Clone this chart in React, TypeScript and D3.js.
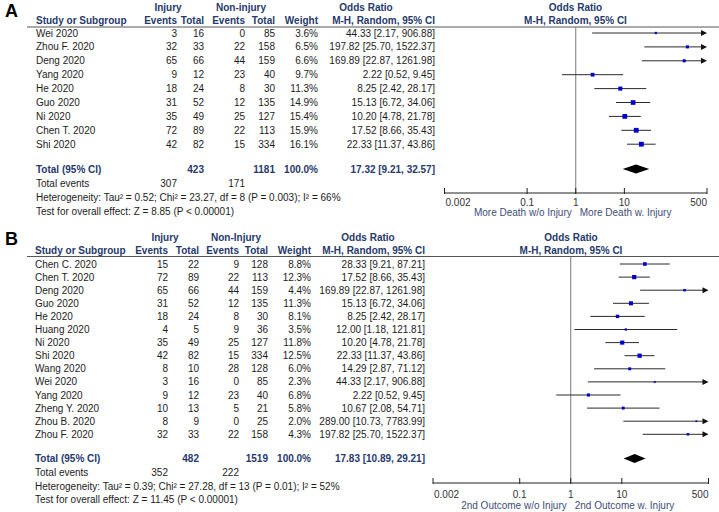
import React from "react";
import * as d3 from "d3";

// ---------- Data ----------
const studiesA = ["Wei 2020", "Zhou F. 2020", "Deng 2020", "Yang 2020", "He 2020", "Guo 2020", "Ni 2020", "Chen T. 2020", "Shi 2020"];
const injEventsA = [3, 32, 65, 9, 18, 31, 35, 72, 42];
const injTotalA = [16, 33, 66, 12, 24, 52, 49, 89, 82];
const nonEventsA = [0, 22, 44, 23, 8, 12, 25, 22, 15];
const nonTotalA = [85, 158, 159, 40, 30, 135, 127, 113, 334];
const weightA = [3.6, 6.5, 6.6, 9.7, 11.3, 14.9, 15.4, 15.9, 16.1];
const orA = [44.33, 197.82, 169.89, 2.22, 8.25, 15.13, 10.2, 17.52, 22.33];
const lowA = [2.17, 25.7, 22.87, 0.52, 2.42, 6.72, 4.78, 8.66, 11.37];
const highA = [906.88, 1522.37, 1261.98, 9.45, 28.17, 34.06, 21.78, 35.43, 43.86];
const totalA = { inj: 423, non: 1181, or: 17.32, low: 9.21, high: 32.57, evInj: 307, evNon: 171 };
const hetA = "Heterogeneity: Tau\u00b2 = 0.52; Chi\u00b2 = 23.27, df = 8 (P = 0.003); I\u00b2 = 66%";
const testA = "Test for overall effect: Z = 8.85 (P < 0.00001)";

const studiesB = ["Chen C. 2020", "Chen T. 2020", "Deng 2020", "Guo 2020", "He 2020", "Huang 2020", "Ni 2020", "Shi 2020", "Wang 2020", "Wei 2020", "Yang 2020", "Zheng Y. 2020", "Zhou B. 2020", "Zhou F. 2020"];
const injEventsB = [15, 72, 65, 31, 18, 4, 35, 42, 8, 3, 9, 10, 8, 32];
const injTotalB = [22, 89, 66, 52, 24, 5, 49, 82, 10, 16, 12, 13, 9, 33];
const nonEventsB = [9, 22, 44, 12, 8, 9, 25, 15, 28, 0, 23, 5, 0, 22];
const nonTotalB = [128, 113, 159, 135, 30, 36, 127, 334, 128, 85, 40, 21, 25, 158];
const weightB = [8.8, 12.3, 4.4, 11.3, 8.1, 3.5, 11.8, 12.5, 6.0, 2.3, 6.8, 5.8, 2.0, 4.3];
const orB = [28.33, 17.52, 169.89, 15.13, 8.25, 12.0, 10.2, 22.33, 14.29, 44.33, 2.22, 10.67, 289.0, 197.82];
const lowB = [9.21, 8.66, 22.87, 6.72, 2.42, 1.18, 4.78, 11.37, 2.87, 2.17, 0.52, 2.08, 10.73, 25.7];
const highB = [87.21, 35.43, 1261.98, 34.06, 28.17, 121.81, 21.78, 43.86, 71.12, 906.88, 9.45, 54.71, 7783.99, 1522.37];
const totalB = { inj: 482, non: 1519, or: 17.83, low: 10.89, high: 29.21, evInj: 352, evNon: 222 };
const hetB = "Heterogeneity: Tau\u00b2 = 0.39; Chi\u00b2 = 27.28, df = 13 (P = 0.01); I\u00b2 = 52%";
const testB = "Test for overall effect: Z = 11.45 (P < 0.00001)";

const axisTicks = [0.002, 0.1, 1, 10, 500];
const axisTickLabels = ["0.002", "0.1", "1", "10", "500"];

// ---------- Styles ----------
const FONT = "'Liberation Sans', Arial, Helvetica, sans-serif";
const NAVY = "#26396b";
const TEXT = "#1c1c1c";
const SIDE = "#3f4d78";

const fmt2 = (v: number) => v.toFixed(2);
const fmtOR = (o: number, l: number, h: number) => `${fmt2(o)} [${fmt2(l)}, ${fmt2(h)}]`;

type Layout = {
  letter: string; letterY: number;
  nameX: number; evI: number; totI: number; evN: number; totN: number; wt: number; orR: number;
  injC: number; nonC: number; orHC: number; plotC: number;
  groupY: number; colY: number; lineY: number;
  row0: number; step: number;
  totalY: number; evY: number; hetY: number; testY: number;
  axisY: number; tickLblY: number; sideY: number;
  xr: [number, number];
  nonLabel: string; sideL: string; sideR: string;
};

type PanelData = {
  studies: string[]; ie: number[]; it: number[]; ne: number[]; nt: number[]; w: number[];
  or: number[]; lo: number[]; hi: number[];
  total: { inj: number; non: number; or: number; low: number; high: number; evInj: number; evNon: number };
  het: string; test: string;
};

function Panel({ L, D }: { L: Layout; D: PanelData }) {
  const x = d3.scaleLog().domain([0.002, 500]).range(L.xr);
  const [xmin, xmax] = L.xr;
  const T = (props: any) => <text fontFamily={FONT} fontSize={10} fill={TEXT} {...props} />;
  const b = (c: number) => c + 3.5;
  const rows = D.studies.map((s, i) => {
    const cy = L.row0 + i * L.step;
    const x1 = Math.max(xmin, x(D.lo[i]));
    const x2 = Math.min(xmax, x(D.hi[i]));
    const over = D.hi[i] > 500;
    const sq = Math.sqrt(D.w[i]) * 1.2;
    return (
      <g key={s}>
        <T x={L.nameX} y={b(cy)}>{s}</T>
        <T x={L.evI} y={b(cy)} textAnchor="end">{D.ie[i]}</T>
        <T x={L.totI} y={b(cy)} textAnchor="end">{D.it[i]}</T>
        <T x={L.evN} y={b(cy)} textAnchor="end">{D.ne[i]}</T>
        <T x={L.totN} y={b(cy)} textAnchor="end">{D.nt[i]}</T>
        <T x={L.wt} y={b(cy)} textAnchor="end">{D.w[i].toFixed(1)}%</T>
        <T x={L.orR} y={b(cy)} textAnchor="end">{fmtOR(D.or[i], D.lo[i], D.hi[i])}</T>
        <line x1={x1} x2={over ? x2 - 4 : x2} y1={cy} y2={cy} stroke="#2a2a2a" strokeWidth={1} />
        {over && <path d={`M${x2},${cy} L${x2 - 6},${cy - 3} L${x2 - 6},${cy + 3} Z`} fill="#111" />}
        <rect x={x(D.or[i]) - sq / 2} y={cy - sq / 2} width={sq} height={sq} fill="#0000cc" />
      </g>
    );
  });
  const n = D.studies.length;
  const tc = L.totalY;
  const dmL = x(D.total.low), dmR = x(D.total.high), dmC = x(D.total.or);
  return (
    <g>
      <text x={5} y={L.letterY} fontFamily={FONT} fontSize={18} fontWeight="bold" fill="#000">{L.letter}</text>
      <g fontFamily={FONT} fontSize={10} fontWeight="bold" fill={NAVY}>
        <text x={L.injC} y={b(L.groupY)} textAnchor="middle">Injury</text>
        <text x={L.nonC} y={b(L.groupY)} textAnchor="middle">{L.nonLabel}</text>
        <text x={L.orHC} y={b(L.groupY)} textAnchor="middle">Odds Ratio</text>
        <text x={L.plotC} y={b(L.groupY)} textAnchor="middle">Odds Ratio</text>
        <text x={L.nameX} y={b(L.colY)}>Study or Subgroup</text>
        <text x={L.evI} y={b(L.colY)} textAnchor="end">Events</text>
        <text x={L.totI} y={b(L.colY)} textAnchor="end">Total</text>
        <text x={L.evN} y={b(L.colY)} textAnchor="end">Events</text>
        <text x={L.totN} y={b(L.colY)} textAnchor="end">Total</text>
        <text x={L.wt} y={b(L.colY)} textAnchor="end">Weight</text>
        <text x={L.orR} y={b(L.colY)} textAnchor="end">M-H, Random, 95% CI</text>
        <text x={L.plotC} y={b(L.colY)} textAnchor="middle">M-H, Random, 95% CI</text>
      </g>
      <line x1={27} x2={719} y1={L.lineY} y2={L.lineY} stroke="#555" strokeWidth={1} />
      <line x1={x(1)} x2={x(1)} y1={L.lineY} y2={L.axisY} stroke="#777" strokeWidth={1} />
      {rows}
      <g fontFamily={FONT} fontSize={10} fontWeight="bold" fill={NAVY}>
        <text x={L.nameX} y={b(tc)}>Total (95% CI)</text>
        <text x={L.totI} y={b(tc)} textAnchor="end">{D.total.inj}</text>
        <text x={L.totN} y={b(tc)} textAnchor="end">{D.total.non}</text>
        <text x={L.wt} y={b(tc)} textAnchor="end">100.0%</text>
        <text x={L.orR} y={b(tc)} textAnchor="end">{fmtOR(D.total.or, D.total.low, D.total.high)}</text>
      </g>
      <path d={`M${dmL},${tc} L${dmC},${tc - 4.5} L${dmR},${tc} L${dmC},${tc + 4.5} Z`} fill="#000" />
      <T x={L.nameX} y={b(L.evY)}>Total events</T>
      <T x={L.evI} y={b(L.evY)} textAnchor="end">{D.total.evInj}</T>
      <T x={L.evN} y={b(L.evY)} textAnchor="end">{D.total.evNon}</T>
      <T x={L.nameX} y={b(L.hetY)}>{D.het}</T>
      <T x={L.nameX} y={b(L.testY)}>{D.test}</T>
      <line x1={xmin} x2={xmax} y1={L.axisY} y2={L.axisY} stroke="#222" strokeWidth={1} />
      {axisTicks.map((t, i) => (
        <g key={t}>
          <line x1={x(t)} x2={x(t)} y1={L.axisY - 5} y2={L.axisY + 1} stroke="#222" strokeWidth={1} />
          <T x={i === 0 ? x(t) + 1 : i === axisTicks.length - 1 ? x(t) : x(t)} y={b(L.tickLblY)}
            textAnchor={i === 0 ? "start" : i === axisTicks.length - 1 ? "end" : "middle"} fill="#333">{axisTickLabels[i]}</T>
        </g>
      ))}
      <T x={x(1) - 4} y={b(L.sideY)} textAnchor="end" fill={SIDE}>{L.sideL}</T>
      <T x={x(1) + 4} y={b(L.sideY)} textAnchor="start" fill={SIDE}>{L.sideR}</T>
    </g>
  );
}

const layoutA: Layout = {
  letter: "A", letterY: 17,
  nameX: 36, evI: 177, totI: 204, evN: 245, totN: 275, wt: 318, orR: 435,
  injC: 168, nonC: 241, orHC: 366, plotC: 575.5,
  groupY: 7, colY: 20, lineY: 27,
  row0: 33, step: 13.9,
  totalY: 169, evY: 183.5, hetY: 197.5, testY: 211,
  axisY: 193, tickLblY: 202, sideY: 212.5,
  xr: [444.5, 707],
  nonLabel: "Non-injury", sideL: "More Death w/o Injury", sideR: "More Death w. Injury",
};

const layoutB: Layout = {
  letter: "B", letterY: 245,
  nameX: 35, evI: 168, totI: 199, evN: 239, totN: 268, wt: 311, orR: 425,
  injC: 165, nonC: 236, orHC: 368, plotC: 571,
  groupY: 237, colY: 250, lineY: 256.5,
  row0: 264, step: 13.1,
  totalY: 458.5, evY: 472.5, hetY: 486, testY: 499.5,
  axisY: 483, tickLblY: 494, sideY: 505,
  xr: [433, 708.5],
  nonLabel: "Non-Injury", sideL: "2nd Outcome w/o Injury", sideR: "2nd Outcome w. Injury",
};

const dataA: PanelData = {
  studies: studiesA, ie: injEventsA, it: injTotalA, ne: nonEventsA, nt: nonTotalA, w: weightA,
  or: orA, lo: lowA, hi: highA, total: totalA, het: hetA, test: testA,
};
const dataB: PanelData = {
  studies: studiesB, ie: injEventsB, it: injTotalB, ne: nonEventsB, nt: nonTotalB, w: weightB,
  or: orB, lo: lowB, hi: highB, total: totalB, het: hetB, test: testB,
};

export default function App() {
  return (
    <svg width={719} height={512} style={{ position: "absolute", left: 0, top: 0, background: "#fff" }}>
      <rect width={719} height={512} fill="#fff" />
      <Panel L={layoutA} D={dataA} />
      <Panel L={layoutB} D={dataB} />
    </svg>
  );
}
